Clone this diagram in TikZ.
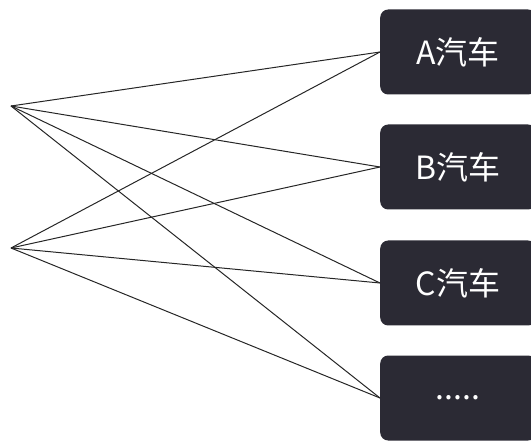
\documentclass[tikz,border=0pt]{standalone}
\usepackage{fontspec}
\setmainfont{Noto Sans CJK SC}
\usetikzlibrary{positioning}
\definecolor{boxcol}{HTML}{2B2A34}
\tikzset{carbox/.style={fill=boxcol, rounded corners=8pt, anchor=west, minimum width=156pt, minimum height=85pt, text=white, font=\fontsize{32}{36}\selectfont, inner sep=0pt}}

\begin{document}
\begin{tikzpicture}[x=1pt,y=-1pt]
\useasboundingbox (0,0) rectangle (531,441);
\coordinate (p) at (11,106);
\coordinate (q) at (11,248);
\node[carbox] (a) at (380,52) {A汽车};
\node[carbox] (b) at (380,167) {B汽车};
\node[carbox] (c) at (380,283) {C汽车};
\node[carbox] (d) at (380,398) {.....};
\foreach \n in {a,b,c,d}
{
\draw[color=black!85, line width=1pt] (p) -- (\n.west);
\draw[color=black!85, line width=1pt] (q) -- (\n.west);
}
\end{tikzpicture}
\end{document}
